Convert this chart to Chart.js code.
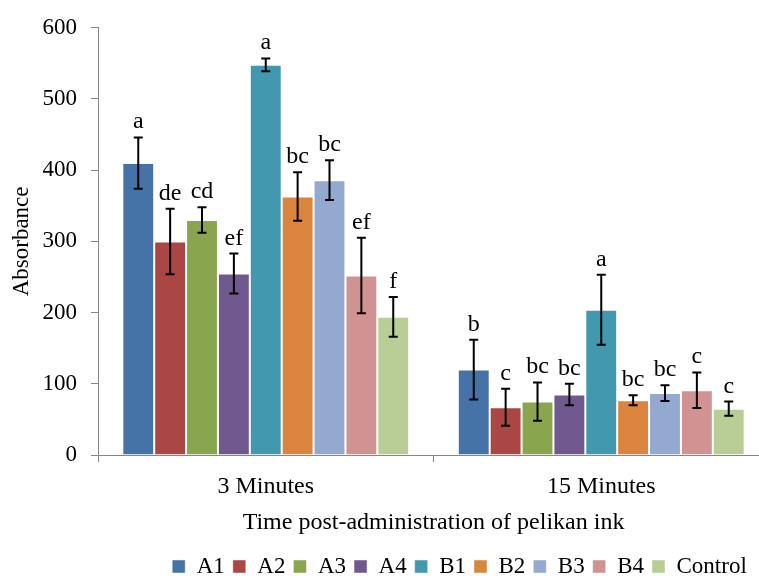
<!DOCTYPE html>
<html lang="en">
<head>
<meta charset="UTF-8" />
<title>Absorbance after pelikan ink administration</title>
<script src="https://cdn.jsdelivr.net/npm/chart.js"></script>
<style>
  body { margin: 0; background: #fff; overflow: hidden; }
  canvas { display: block; }
</style>
</head>
<body>
<canvas id="absChart" width="772" height="578"></canvas>
<script>
const times = ['3 Minutes', '15 Minutes'];
const groups = ['A1', 'A2', 'A3', 'A4', 'B1', 'B2', 'B3', 'B4', 'Control'];
const colours = ['#4572A7', '#AA4643', '#89A54E', '#71588F', '#4198AF', '#DB843D', '#93A9CF', '#D19392', '#B9CD96'];

// means and error (+/-) per group
const mean3 = [410, 300, 330, 255, 548, 363, 386, 252, 194];
const err3 = [36, 46, 18, 28, 9, 34, 28, 53, 28];
const sig3 = ['a', 'de', 'cd', 'ef', 'a', 'bc', 'bc', 'ef', 'f'];

const mean15 = [120, 67, 75, 85, 204, 77, 87, 91, 65];
const err15 = [42, 26, 27, 15, 49, 7, 11, 25, 10];
const sig15 = ['b', 'c', 'bc', 'bc', 'a', 'bc', 'bc', 'c', 'c'];

const yTicks = [0, 100, 200, 300, 400, 500, 600];

const serif = 'Liberation Serif, Times New Roman, serif';
const axisGrey = '#868686';
const legendShift = { x: 75, y: 10 };

const errorBars = {
    id: 'errorBars',
    afterDatasetsDraw(chart) {
        const ctx = chart.ctx;
        const y = chart.scales.y;
        ctx.save();
        ctx.strokeStyle = '#000';
        ctx.lineWidth = 2;
        ctx.fillStyle = '#000';
        ctx.font = '24px ' + serif;
        ctx.textAlign = 'center';
        ctx.textBaseline = 'alphabetic';
        chart.data.datasets.forEach((ds, i) => {
            const meta = chart.getDatasetMeta(i);
            meta.data.forEach((bar, j) => {
                const v = ds.data[j];
                const e = ds.errors[j];
                const top = y.getPixelForValue(v + e);
                const bot = y.getPixelForValue(v - e);
                ctx.beginPath();
                ctx.moveTo(bar.x, top);
                ctx.lineTo(bar.x, bot);
                ctx.moveTo(bar.x - 4.5, top);
                ctx.lineTo(bar.x + 4.5, top);
                ctx.moveTo(bar.x - 4.5, bot);
                ctx.lineTo(bar.x + 4.5, bot);
                ctx.stroke();
                ctx.fillText(ds.letters[j], bar.x, top - 9);
            });
        });
        ctx.restore();
    }
};

// move the legend right/down like the original layout
const legendNudge = {
    id: 'legendNudge',
    afterLayout(chart) {
        const lg = chart.legend;
        lg.left += legendShift.x;
        lg.right += legendShift.x;
        lg.top += legendShift.y;
        lg.bottom += legendShift.y;
    }
};

const datasets = groups.map((g, i) => ({
    label: g,
    data: [mean3[i], mean15[i]],
    errors: [err3[i], err15[i]],
    letters: [sig3[i], sig15[i]],
    backgroundColor: colours[i],
    borderColor: 'rgba(255,255,255,0.45)',
    borderWidth: 1,
    barPercentage: 1,
    categoryPercentage: 0.855
}));

new Chart(document.getElementById('absChart'), {
    type: 'bar',
    data: { labels: times, datasets: datasets },
    options: {
        responsive: false,
        animation: false,
        layout: { padding: { top: 19, right: 3, left: 0, bottom: 0 } },
        plugins: {
            tooltip: { enabled: false },
            legend: {
                position: 'bottom',
                labels: {
                    boxWidth: 13,
                    boxHeight: 13,
                    padding: 8,
                    color: '#000',
                    font: { family: serif, size: 23 }
                }
            }
        },
        scales: {
            x: {
                grid: { drawOnChartArea: false, tickLength: 7, color: axisGrey, offset: true },
                border: { color: axisGrey },
                ticks: { color: '#000', padding: 10, font: { family: serif, size: 24 } },
                title: {
                    display: true,
                    text: 'Time post-administration of pelikan ink',
                    color: '#000',
                    font: { family: serif, size: 24 },
                    padding: { top: 12, bottom: 0 }
                },
                afterFit(s) { s.height = 82; }
            },
            y: {
                min: 0,
                max: 600,
                afterBuildTicks(s) { s.ticks = yTicks.map(v => ({ value: v })); },
                grid: { drawOnChartArea: false, tickLength: 7, color: axisGrey },
                border: { color: axisGrey },
                ticks: { color: '#000', padding: 14, font: { family: serif, size: 23 } },
                title: {
                    display: true,
                    text: 'Absorbance',
                    color: '#000',
                    font: { family: serif, size: 23 },
                    padding: { top: 8, bottom: 4 }
                },
                afterFit(s) { s.width = 98; }
            }
        }
    },
    plugins: [errorBars, legendNudge]
});
</script>
</body>
</html>
